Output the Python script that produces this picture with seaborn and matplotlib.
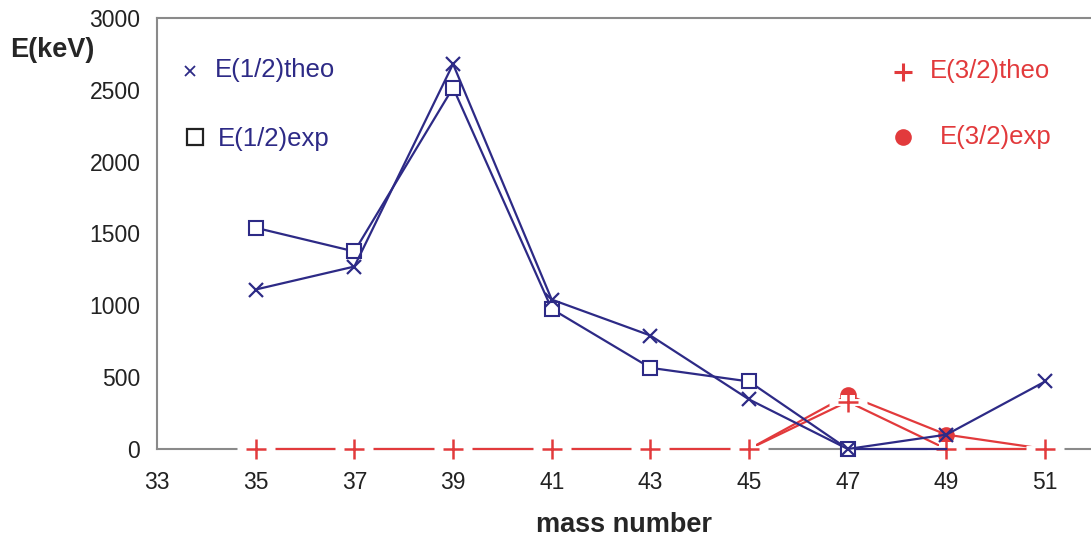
import matplotlib
matplotlib.use("Agg")
import seaborn as sns
import numpy as np
from matplotlib import pyplot as plt

blue = '#2d2a86'
red = '#e23a3c'
grey = '#8a8a8a'

# E(1/2) theo / exp
mass_half_theo = [35, 37, 39, 41, 43, 45, 47, 49, 51]
e_half_theo = [1110, 1270, 2680, 1040, 790, 345, 0, 100, 470]
mass_half_exp = [35, 37, 39, 41, 43, 45, 47, 49]
e_half_exp = [1540, 1375, 2515, 975, 565, 470, 0, 0]

# E(3/2) theo / exp
mass_32_theo = [35, 37, 39, 41, 43, 45, 47, 49, 51]
e_32_theo = [0, 0, 0, 0, 0, 0, 330, 0, 0]
mass_32_exp = [45, 47, 49, 51]
e_32_exp = [0, 375, 100, 0]

x_ticks = [33, 35, 37, 39, 41, 43, 45, 47, 49, 51]
y_ticks = [0, 500, 1000, 1500, 2000, 2500, 3000]

sns.set_style("white")
plt.rcParams['font.family'] = ['Liberation Sans', 'DejaVu Sans']

fig = plt.figure(figsize=(10.91, 5.41), dpi=100)
ax = fig.add_axes([157 / 1091, 92 / 541, 934 / 1091, 431 / 541])

# red series first (below the blue ones)
sns.lineplot(x=mass_32_exp, y=e_32_exp, ax=ax, color=red, lw=1.6,
             zorder=3, clip_on=False)
ax.plot(mass_32_exp[1:3], e_32_exp[1:3], ls='none', marker='o', markersize=12,
        markeredgewidth=0, color=red, zorder=3, clip_on=False)
sns.lineplot(x=mass_32_theo, y=e_32_theo, ax=ax, color=red, lw=1.6,
             zorder=3, clip_on=False)
# white gap around the + markers
ax.plot(mass_32_theo, e_32_theo, ls='none', marker='s', markersize=10,
        markeredgewidth=0, color='white', zorder=3.5, clip_on=False)
ax.plot(mass_32_theo, e_32_theo, ls='none', marker='_', markersize=27,
        markeredgewidth=5, color='white', zorder=3.5, clip_on=False)
ax.plot(mass_32_theo, e_32_theo, ls='none', marker='+', markersize=14,
        markeredgewidth=1.8, color=red, zorder=4, clip_on=False)

# blue series
sns.lineplot(x=mass_half_exp, y=e_half_exp, ax=ax, color=blue, lw=1.6,
             marker='s', markersize=10, markerfacecolor='white',
             markeredgecolor=blue, markeredgewidth=1.5,
             markevery=list(range(7)), zorder=5, clip_on=False)
sns.lineplot(x=mass_half_theo, y=e_half_theo, ax=ax, color=blue, lw=1.6,
             marker='x', markersize=10, markeredgecolor=blue,
             markeredgewidth=1.6, zorder=6, clip_on=False)

ax.set_xlim(33, 51.93)
ax.set_ylim(0, 3000)
ax.set_xticks(x_ticks)
ax.set_yticks(y_ticks)
ax.tick_params(axis='both', labelsize=16.5, colors='#222222', length=5,
               width=1, direction='out')
ax.tick_params(axis='y', pad=7)
ax.tick_params(axis='x', pad=11)
for t in ax.get_xticklines() + ax.get_yticklines():
    t.set_color(grey)

for side in ['left', 'bottom', 'top']:
    ax.spines[side].set_color(grey)
    ax.spines[side].set_linewidth(1.5)
ax.spines['right'].set_visible(False)

ax.set_xlabel("mass number", fontsize=19.5, fontweight='bold', labelpad=13)
fig.text(10 / 1091, 1 - 50 / 541, "E(keV)", fontsize=19.5, fontweight='bold',
         va='center', ha='left')

# legend entries placed like the original
def fx(px):
    return px / 1091

def fy(py):
    return 1 - py / 541

ax.plot([fx(190)], [fy(71)], transform=fig.transFigure, marker='x', color=blue,
        markersize=7, markeredgewidth=1.3, clip_on=False)
fig.text(fx(215), fy(70), "E(1/2)theo", color=blue, fontsize=18.5, va='center')
ax.plot([fx(195)], [fy(137)], transform=fig.transFigure, marker='s',
        markerfacecolor='white', markeredgecolor='#222222', markersize=11,
        markeredgewidth=1.6, clip_on=False)
fig.text(fx(218), fy(139), "E(1/2)exp", color=blue, fontsize=18.5, va='center')

ax.plot([fx(903)], [fy(72)], transform=fig.transFigure, marker='+', color=red,
        markersize=13, markeredgewidth=2.2, clip_on=False)
fig.text(fx(930), fy(71), "E(3/2)theo", color=red, fontsize=18.5, va='center')
ax.plot([fx(903)], [fy(137)], transform=fig.transFigure, marker='o', color=red,
        markersize=12, markeredgewidth=0, clip_on=False)
fig.text(fx(940), fy(137), "E(3/2)exp", color=red, fontsize=18.5, va='center')

fig.savefig("out.png", dpi=100)
